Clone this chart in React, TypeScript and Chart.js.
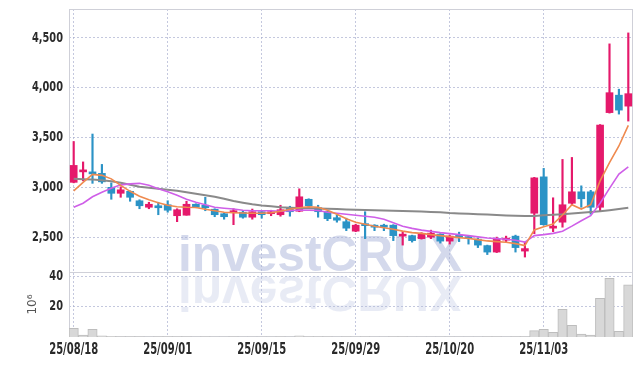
import React, { useEffect, useRef } from 'react';
import { Chart, registerables } from 'chart.js';
import { renderText } from 'chart.js/helpers';

Chart.register(...registerables);

const dates = [
  '25/08/18', '25/08/19', '25/08/20', '25/08/21', '25/08/22', '25/08/25', '25/08/26', '25/08/27', '25/08/28', '25/08/29',
  '25/09/01', '25/09/02', '25/09/03', '25/09/04', '25/09/05', '25/09/08', '25/09/09', '25/09/10', '25/09/11', '25/09/12',
  '25/09/15', '25/09/16', '25/09/17', '25/09/18', '25/09/19', '25/09/22', '25/09/23', '25/09/24', '25/09/25', '25/09/26',
  '25/09/29', '25/09/30', '25/10/01', '25/10/02', '25/10/10', '25/10/13', '25/10/14', '25/10/15', '25/10/16', '25/10/17',
  '25/10/20', '25/10/21', '25/10/22', '25/10/23', '25/10/24', '25/10/27', '25/10/28', '25/10/29', '25/10/30', '25/10/31',
  '25/11/03', '25/11/04', '25/11/05', '25/11/06', '25/11/07', '25/11/10', '25/11/11', '25/11/12', '25/11/13', '25/11/14',
];

const opens = [
  3050, 3155, 3145, 3140, 3000, 2940, 2960, 2865, 2800, 2815,
  2825, 2715, 2720, 2830, 2820, 2780, 2735, 2745, 2750, 2700,
  2755, 2735, 2725, 2790, 2760, 2880, 2795, 2755, 2695, 2655,
  2560, 2625, 2620, 2615, 2620, 2510, 2515, 2485, 2500, 2530,
  2460, 2510, 2500, 2480, 2415, 2350, 2470, 2510, 2360, 2740,
  3105, 2590, 2650, 2840, 2955, 2955, 2800, 3750, 3925, 3815,
];
const highs = [
  3460, 3255, 3535, 3230, 3045, 3005, 2965, 2875, 2850, 2850,
  2865, 2785, 2860, 2835, 2900, 2785, 2740, 2785, 2765, 2782,
  2760, 2770, 2820, 2810, 2985, 2885, 2820, 2760, 2720, 2690,
  2630, 2755, 2625, 2630, 2625, 2555, 2520, 2545, 2570, 2535,
  2520, 2550, 2510, 2490, 2420, 2500, 2510, 2520, 2450, 3100,
  3190, 2895, 3280, 3300, 3015, 2970, 3630, 4440, 3985, 4550,
];
const lows = [
  3045, 3065, 3040, 3040, 2880, 2900, 2860, 2785, 2785, 2725,
  2750, 2655, 2720, 2795, 2765, 2705, 2680, 2625, 2690, 2680,
  2690, 2715, 2710, 2710, 2755, 2790, 2700, 2665, 2650, 2565,
  2555, 2485, 2565, 2565, 2465, 2420, 2450, 2480, 2485, 2440,
  2430, 2455, 2430, 2395, 2325, 2345, 2455, 2350, 2300, 2535,
  2620, 2555, 2600, 2825, 2800, 2730, 2765, 3745, 3735, 3665,
];
const closes = [
  3220, 3170, 3135, 3055, 2940, 2975, 2900, 2815, 2830, 2795,
  2770, 2775, 2830, 2800, 2795, 2725, 2705, 2765, 2700, 2755,
  2725, 2745, 2775, 2755, 2905, 2815, 2755, 2685, 2670, 2590,
  2620, 2615, 2600, 2600, 2515, 2525, 2465, 2530, 2540, 2460,
  2510, 2500, 2485, 2420, 2350, 2480, 2490, 2395, 2385, 3095,
  2625, 2605, 2825, 2955, 2885, 2800, 3625, 3950, 3775, 3940,
];

const ma5 = [
  2965, 3050, 3130, 3120, 3085, 3020, 2960, 2910, 2875, 2845,
  2820, 2805, 2800, 2798, 2780, 2765, 2750, 2745, 2742, 2740,
  2740, 2745, 2760, 2780, 2795, 2805, 2800, 2770, 2730, 2685,
  2650, 2630, 2610, 2595, 2580, 2560, 2545, 2538, 2525, 2515,
  2505, 2495, 2487, 2475, 2462, 2455, 2448, 2435, 2415, 2572,
  2605, 2632, 2722, 2825, 2782, 2825, 3065, 3248, 3415, 3622,
];
const ma20 = [
  2800, 2840, 2905, 2950, 2990, 3025, 3035, 3040, 3020, 2985,
  2955, 2920, 2880, 2850, 2825, 2800, 2790, 2782, 2770, 2765,
  2765, 2765, 2760, 2765, 2772, 2770, 2768, 2750, 2740, 2730,
  2720, 2710, 2700, 2680, 2645, 2610, 2588, 2570, 2558, 2545,
  2535, 2525, 2515, 2503, 2492, 2485, 2478, 2468, 2450, 2515,
  2525, 2538, 2560, 2610, 2665, 2715, 2840, 2990, 3132, 3205,
];
const ma60 = [
  3085, 3082, 3078, 3070, 3060, 3045, 3025, 3005, 2995, 2985,
  2975, 2965, 2950, 2935, 2920, 2905, 2885, 2862, 2845, 2830,
  2818, 2810, 2800, 2795, 2792, 2790, 2787, 2785, 2782, 2778,
  2775, 2772, 2770, 2768, 2765, 2762, 2760, 2757, 2753, 2750,
  2742, 2738, 2735, 2730, 2726, 2722, 2718, 2715, 2713, 2713,
  2720, 2725, 2730, 2738, 2745, 2752, 2760, 2770, 2782, 2795,
];

const volumes = [
  5.7, 1.3, 5.1, 0.7, 0.5, 0.3, 0.2, 0.2, 0.1, 0.2,
  0.2, 0.3, 0.2, 0.1, 0.2, 0.1, 0.1, 0.2, 0.1, 0.1,
  0.1, 0.1, 0.2, 0.1, 0.7, 0.3, 0.2, 0.2, 0.1, 0.2,
  0.1, 0.3, 0.1, 0.1, 0.2, 0.2, 0.1, 0.1, 0.1, 0.1,
  0.1, 0.1, 0.1, 0.1, 0.2, 0.2, 0.1, 0.2, 0.2, 4.2,
  5.1, 3.1, 18.3, 7.7, 2.0, 1.3, 25.5, 38.7, 3.8, 34.3,
];

const priceTicks = [2500, 3000, 3500, 4000, 4500];
const volumeTicks = [20, 40];

const watermarkText = 'investCRUX';
const volumeUnit = '10⁶';

const UP = '#e5196b';
const DOWN = '#2b93c6';
const GRID = 'rgba(165,170,205,0.65)';
const FRAME = '#cfd0d8';
const TICK_FAMILY = "'DejaVu Sans Condensed', 'DejaVu Sans', sans-serif";

// Draws the scale's own label items horizontally condensed so that `sample` is `targetWidth` px wide.
function condensedLabels(targetWidth: number, sample: string) {
  return function (this: any, chartArea: any) {
    const ctx = this.ctx as CanvasRenderingContext2D;
    const items = this.getLabelItems(chartArea);
    if (!items.length) return;
    ctx.save();
    ctx.font = items[0].font.string;
    const k = targetWidth / ctx.measureText(sample).width;
    ctx.restore();
    ctx.save();
    ctx.scale(k, 1);
    for (const item of items) {
      const o = item.options;
      renderText(ctx, item.label, 0, item.textOffset, item.font, {
        ...o,
        translation: [o.translation[0] / k, o.translation[1]],
      });
    }
    ctx.restore();
  };
}

const framePlugin = {
  id: 'frameAndWatermark',
  beforeDatasetsDraw(chart: any) {
    const { ctx, chartArea, scales } = chart;
    const sep = scales.y.bottom;
    ctx.save();
    ctx.font = "bold 50px 'Liberation Sans', Arial, sans-serif";
    const w = ctx.measureText(watermarkText).width;
    const sx = 284 / w;
    const baseY = sep - 1;
    ctx.save();
    ctx.translate(178, baseY);
    ctx.scale(sx, 1);
    ctx.fillStyle = 'rgba(170,180,218,0.5)';
    ctx.textBaseline = 'alphabetic';
    ctx.fillText(watermarkText, 0, 0);
    ctx.restore();
    ctx.save();
    ctx.translate(178, baseY + 5);
    ctx.scale(sx, -1);
    ctx.fillStyle = 'rgba(180,188,222,0.3)';
    ctx.textBaseline = 'alphabetic';
    ctx.fillText(watermarkText, 0, 0);
    ctx.restore();
    ctx.strokeStyle = FRAME;
    ctx.lineWidth = 1;
    ctx.setLineDash([]);
    const l = Math.round(chartArea.left) + 0.5;
    const r = Math.round(chartArea.right) - 0.5;
    const t = Math.round(chartArea.top) + 0.5;
    const b = Math.round(chartArea.bottom) - 0.5;
    const m = Math.round(sep) + 0.5;
    ctx.strokeRect(l, t, r - l, b - t);
    ctx.beginPath();
    ctx.moveTo(l, m);
    ctx.lineTo(r, m);
    ctx.stroke();
    ctx.restore();
  },
};

const yLabelDraw = condensedLabels(31, '4,500');
const xLabelDraw = condensedLabels(49, '25/08/18');

const fitY = (s: any) => {
  s.width = 69;
  s.paddingTop = 0;
  s.paddingBottom = 0;
  s.drawLabels = yLabelDraw;
};

export default function App() {
  const ref = useRef<HTMLCanvasElement>(null);
  useEffect(() => {
    const colors = opens.map((o, i) => (closes[i] >= o ? UP : DOWN));
    const xFont = { family: TICK_FAMILY, size: 15, weight: 'bold' as const };
    const yFont = { family: TICK_FAMILY, size: 14, weight: 'bold' as const };
    const chart = new Chart(ref.current as HTMLCanvasElement, {
      type: 'bar',
      data: {
        labels: dates,
        datasets: [
          { type: 'line', label: 'MA5', data: ma5, yAxisID: 'y', borderColor: '#ef8a4f', borderWidth: 1.6, pointRadius: 0, tension: 0, order: 0 } as any,
          { type: 'line', label: 'MA20', data: ma20, yAxisID: 'y', borderColor: '#cf5fe8', borderWidth: 1.6, pointRadius: 0, tension: 0, order: 0 } as any,
          { type: 'line', label: 'MA60', data: ma60, yAxisID: 'y', borderColor: '#8a8a8a', borderWidth: 2, pointRadius: 0, tension: 0, order: 0 } as any,
          { type: 'bar', label: 'body', data: opens.map((o, i) => [o, closes[i]]), yAxisID: 'y', backgroundColor: colors, barThickness: 7, grouped: false, minBarLength: 2, order: 1 } as any,
          { type: 'bar', label: 'wick', data: lows.map((l, i) => [l, highs[i]]), yAxisID: 'y', backgroundColor: colors, barThickness: 1.5, grouped: false, order: 2 } as any,
          { type: 'bar', label: 'volume', data: volumes, yAxisID: 'yv', backgroundColor: '#d8d8d8', borderColor: '#bdbdbd', borderWidth: 1, barPercentage: 1, categoryPercentage: 1, grouped: false, order: 3 } as any,
        ],
      },
      options: {
        responsive: false,
        animation: false,
        devicePixelRatio: 1,
        layout: { padding: { top: 9, right: 10, left: 0, bottom: 0 } },
        plugins: { legend: { display: false }, tooltip: { enabled: false } },
        scales: {
          x: {
            type: 'category',
            offset: true,
            grid: {
              offset: false,
              drawTicks: false,
              color: (c: any) => (c.index % 10 === 0 ? GRID : 'rgba(0,0,0,0)'),
            },
            border: { display: false, dash: [2, 2] },
            ticks: {
              autoSkip: false,
              maxRotation: 0,
              minRotation: 0,
              padding: 4,
              color: '#2a2a2a',
              font: xFont,
              callback: (_v: any, i: number) => (i % 10 === 0 ? dates[i] : ''),
            },
            afterFit: (s: any) => {
              s.height = 29;
              s.paddingLeft = 0;
              s.paddingRight = 0;
              s.drawLabels = xLabelDraw;
            },
          },
          y: {
            type: 'linear',
            position: 'left',
            stack: 'main',
            stackWeight: 263,
            weight: 1,
            min: 2150,
            max: 4790,
            grid: { color: GRID, drawTicks: false },
            border: { display: false, dash: [2, 2] },
            ticks: {
              padding: 6,
              color: '#2a2a2a',
              font: yFont,
              callback: (v: any) => Number(v).toLocaleString('en-US'),
            },
            afterBuildTicks: (s: any) => { s.ticks = priceTicks.map((v) => ({ value: v })); },
            afterFit: fitY,
          },
          yv: {
            type: 'linear',
            position: 'left',
            stack: 'main',
            stackWeight: 65,
            weight: 0,
            min: 0,
            max: 42.8,
            grid: { color: GRID, drawTicks: false },
            border: { display: false, dash: [2, 2] },
            ticks: {
              padding: 6,
              color: '#2a2a2a',
              font: yFont,
              callback: (v: any) => String(v),
            },
            afterBuildTicks: (s: any) => { s.ticks = volumeTicks.map((v) => ({ value: v })); },
            title: {
              display: true,
              text: volumeUnit,
              color: '#555',
              font: { family: "'DejaVu Sans', sans-serif", size: 12 },
              padding: { top: 26, bottom: 0 },
            },
            afterFit: fitY,
          },
        },
      } as any,
      plugins: [framePlugin],
    });
    return () => chart.destroy();
  }, []);

  return (
    <div style={{ position: 'fixed', left: 0, top: 0, width: 643, height: 366, background: '#fff' }}>
      <canvas ref={ref} width={643} height={366} style={{ display: 'block' }} />
    </div>
  );
}
